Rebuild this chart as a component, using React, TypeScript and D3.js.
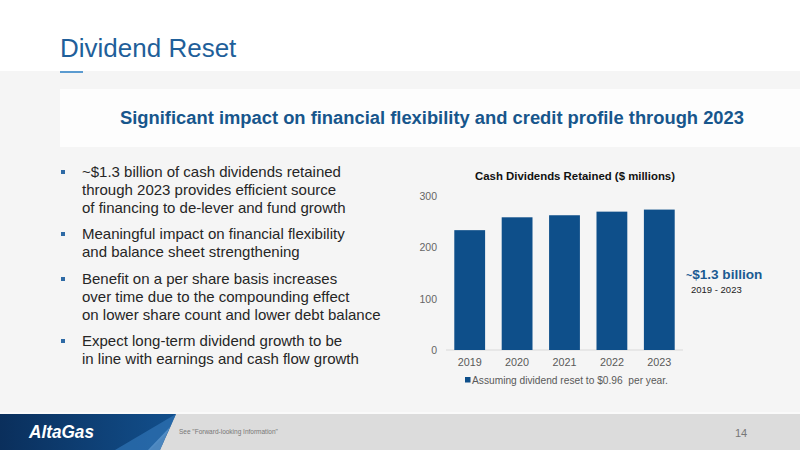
import React from "react";
import * as d3 from "d3";

const years = ["2019", "2020", "2021", "2022", "2023"];
const retained = [233, 258, 262, 269, 273];
const yTicks = [0, 100, 200, 300];
const chartTitle = "Cash Dividends Retained ($ millions)";
const legendLabel = "Assuming dividend reset to $0.96  per year.";
const bullets = [
  ["~$1.3 billion of cash dividends retained", "through 2023 provides efficient source", "of financing to de-lever and fund growth"],
  ["Meaningful impact on financial flexibility", "and balance sheet strengthening"],
  ["Benefit on a per share basis increases", "over time due to the compounding effect", "on lower share count and lower debt balance"],
  ["Expect long-term dividend growth to be", "in line with earnings and cash flow growth"],
];
const bulletTops = [177, 239, 284, 346];

const W = 800, H = 450;
const FONT = "'Liberation Sans', Arial, Helvetica, sans-serif";
const BLUE = "#0e4f8a";

export default function App() {
  const x = d3.scaleBand<string>().domain(years).range([446, 683]).paddingInner(0.35).paddingOuter(0.175);
  const y = d3.scaleLinear().domain([0, 300]).range([350, 195.7]);
  return (
    <svg width={W} height={H} style={{ position: "absolute", left: 0, top: 0, fontFamily: FONT }}>
      <defs>
        <linearGradient id="logoGrad" x1="0" y1="0" x2="1" y2="0">
          <stop offset="0" stopColor="#0a2f5c" />
          <stop offset="1" stopColor="#124f8c" />
        </linearGradient>
      </defs>
      <rect x={0} y={0} width={W} height={H} fill="#ffffff" />
      <rect x={0} y={71} width={W} height={341} fill="#f5f5f5" />
      <rect x={60} y={89} width={740} height={58} fill="#fdfdfd" />
      <text x={60} y={57} fontSize={26} fill="#1f5f9a">Dividend Reset</text>
      <rect x={60} y={71} width={23} height={2} fill="#5b9bd0" />
      <text x={120} y={124} fontSize={17.5} fontWeight="bold" fill="#17568c" textLength={624} lengthAdjust="spacingAndGlyphs">
        Significant impact on financial flexibility and credit profile through 2023
      </text>

      {bullets.map((lines, i) => (
        <g key={i}>
          <rect x={61} y={bulletTops[i] - 7} width={4} height={4} fill="#2e6aa5" />
          {lines.map((l, j) => (
            <text key={j} x={82} y={bulletTops[i] + j * 17.8} fontSize={15} fill="#262626">{l}</text>
          ))}
        </g>
      ))}

      <text x={575} y={180} fontSize={11.4} fontWeight="bold" fill="#111" textAnchor="middle">{chartTitle}</text>
      {yTicks.map((t) => (
        <text key={t} x={437} y={y(t) + 4} fontSize={10.5} fill="#666" textAnchor="end">{t}</text>
      ))}
      <line x1={446} x2={683} y1={y(0)} y2={y(0)} stroke="#d9d9d9" strokeWidth={1} />
      {years.map((yr, i) => (
        <g key={yr}>
          <rect x={x(yr)} y={y(retained[i])} width={x.bandwidth()} height={y(0) - y(retained[i])} fill={BLUE} />
          <text x={(x(yr) as number) + x.bandwidth() / 2} y={366} fontSize={10.8} fill="#595959" textAnchor="middle">{yr}</text>
        </g>
      ))}
      <rect x={465} y={377} width={5.5} height={5.5} fill={BLUE} />
      <text x={472} y={384} fontSize={10.2} fill="#595959" style={{ whiteSpace: "pre" }}>{legendLabel}</text>

      <text x={686} y={279} fontSize={13.6} fontWeight="bold" fill="#1a5a92">
        <tspan fontSize={10.5}>~</tspan>$1.3 billion
      </text>
      <text x={691} y={293} fontSize={9.5} fill="#222">2019 - 2023</text>

      <rect x={0} y={412} width={W} height={2} fill="#fafafa" />
      <rect x={0} y={414} width={W} height={36} fill="#dcdcdc" />
      <polygon points="0,414 176,414 160,450 0,450" fill="url(#logoGrad)" />
      <polygon points="115,450 176,414 168,432 150,450" fill="#2f73b5" opacity={0.7} />
      <polygon points="148,450 170,427 160,450" fill="#5b95cc" opacity={0.8} />
      <text x={29} y={438} fontSize={19} fontWeight="bold" fontStyle="italic" fill="#ffffff" textLength={65} lengthAdjust="spacingAndGlyphs">AltaGas</text>
      <text x={179} y={434} fontSize={6.5} fill="#777">See "Forward-looking Information"</text>
      <text x={735} y={437} fontSize={11} fill="#777">14</text>
    </svg>
  );
}
